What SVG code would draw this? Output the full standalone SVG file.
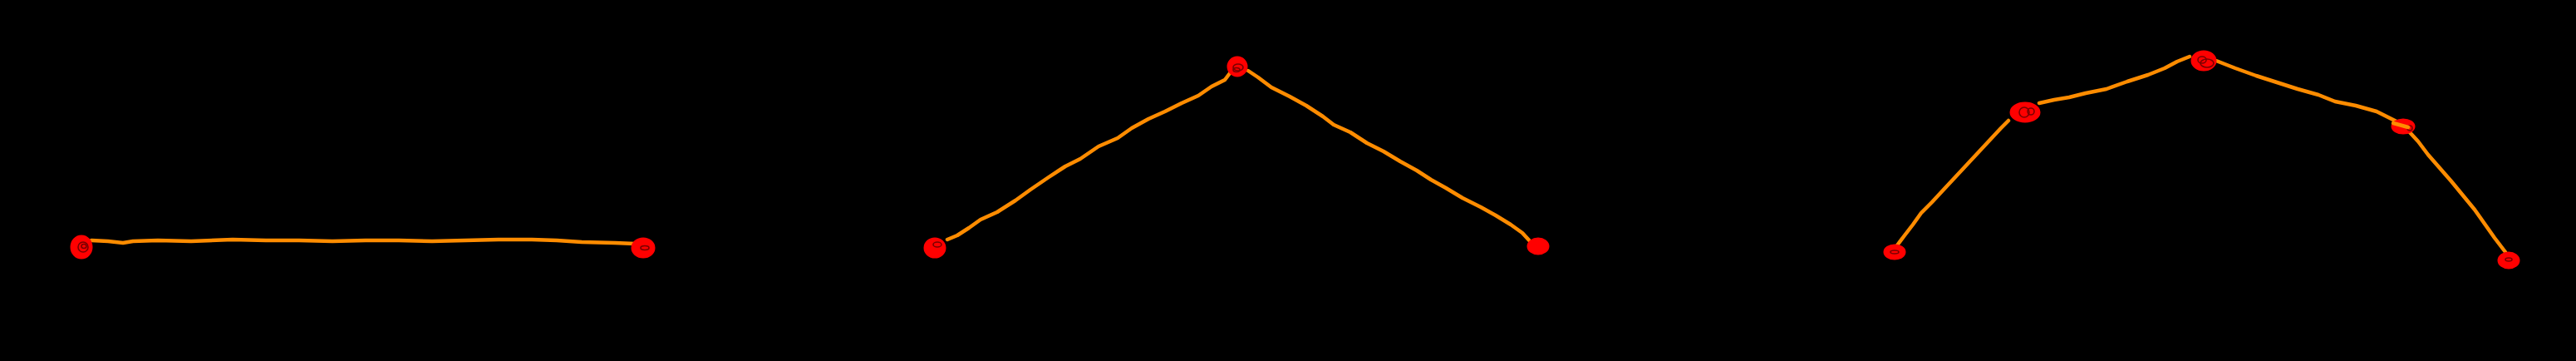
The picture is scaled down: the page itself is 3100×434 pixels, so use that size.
<svg xmlns="http://www.w3.org/2000/svg" width="3100" height="434" viewBox="0 0 3100 434">
<style>
.bg{fill:#000}
.edge{fill:none;stroke:#FF8C00;stroke-width:4.5;stroke-linecap:round;stroke-linejoin:round}
.dot{fill:#FF0000;stroke:#FF0000;stroke-width:3}
.scr{fill:none;stroke:#7a0000;stroke-width:1.6}
</style>
<rect class="bg" x="0" y="0" width="3100" height="434"/>
<g id="connectors">
  <path class="edge" d="M110,289 L130,290 L148,292 L160,290 L190,289 L230,290 L280,288 L320,289 L360,289 L400,290 L440,289 L480,289 L520,290 L560,289 L600,288 L640,288 L670,289 L700,291 L740,292 L765,293"/>
  <path class="edge" d="M1140,288 L1152,283 L1166,274 L1180,264 L1200,255 L1222,241 L1240,228 L1262,213 L1282,200 L1300,191 L1322,176 L1345,166 L1362,154 L1382,143 L1402,134 L1422,124 L1442,115 L1458,104 L1474,96 L1480,88"/>
  <path class="edge" d="M1502,85 L1514,93 L1530,105 L1552,116 L1572,127 L1592,140 L1605,150 L1625,159 L1645,172 L1665,182 L1685,194 L1705,205 L1722,216 L1740,226 L1760,238 L1782,249 L1800,259 L1818,270 L1832,280 L1843,292"/>
  <path class="edge" d="M2283,295 L2292,283 L2302,270 L2312,256 L2325,243 L2338,229 L2352,214 L2366,199 L2380,184 L2394,169 L2408,154 L2417,145"/>
  <path class="edge" d="M2454,124 L2472,120 L2490,117 L2510,112 L2535,107 L2560,98 L2585,90 L2605,82 L2620,74 L2635,68"/>
  <path class="edge" d="M2667,73 L2690,82 L2715,91 L2740,99 L2765,107 L2790,114 L2810,122 L2835,127 L2860,134 L2880,144 L2898,153"/>
  <path class="edge" d="M2898,157 L2910,170 L2922,186 L2936,202 L2950,218 L2964,235 L2978,252 L2990,269 L3002,286 L3015,303"/>
</g>
<g id="p1-a"><ellipse class="dot" cx="98" cy="297" rx="12" ry="13"/><ellipse class="scr" cx="100" cy="297" rx="6" ry="6"/><ellipse class="scr" cx="101" cy="296" rx="3" ry="2.5"/></g>
<g id="p1-b"><ellipse class="dot" cx="774" cy="298" rx="13" ry="11"/><ellipse class="scr" cx="776" cy="298" rx="5" ry="2.5"/></g>
<g id="p2-a"><ellipse class="dot" cx="1125" cy="298" rx="12" ry="11"/><ellipse class="scr" cx="1128" cy="294" rx="5" ry="3"/></g>
<g id="p2-b"><ellipse class="dot" cx="1489" cy="80" rx="11" ry="11"/><ellipse class="scr" cx="1490" cy="81" rx="6" ry="4"/><ellipse class="scr" cx="1488" cy="84" rx="4" ry="2.5"/></g>
<g id="p2-c"><ellipse class="dot" cx="1851" cy="296" rx="12" ry="9"/></g>
<g id="p3-a"><ellipse class="dot" cx="2280" cy="303" rx="12" ry="8"/><ellipse class="scr" cx="2280" cy="303" rx="5" ry="2"/></g>
<g id="p3-b"><ellipse class="dot" cx="2437" cy="135" rx="17" ry="11"/><ellipse class="scr" cx="2436" cy="135" rx="6" ry="6"/><ellipse class="scr" cx="2444" cy="134" rx="4" ry="4"/></g>
<g id="p3-c"><ellipse class="dot" cx="2652" cy="73" rx="14" ry="11"/><ellipse class="scr" cx="2650" cy="72" rx="5" ry="4"/><ellipse class="scr" cx="2656" cy="76" rx="8" ry="5"/></g>
<g id="p3-d"><ellipse class="dot" cx="2892" cy="152" rx="13" ry="8"/><ellipse class="scr" cx="2900" cy="154" rx="3" ry="3"/></g>
<g id="p3-e"><ellipse class="dot" cx="3019" cy="313" rx="12" ry="9"/><ellipse class="scr" cx="3019" cy="312" rx="4" ry="2"/></g>
<path class="edge" d="M2880,148 L2898,153" />
</svg>
